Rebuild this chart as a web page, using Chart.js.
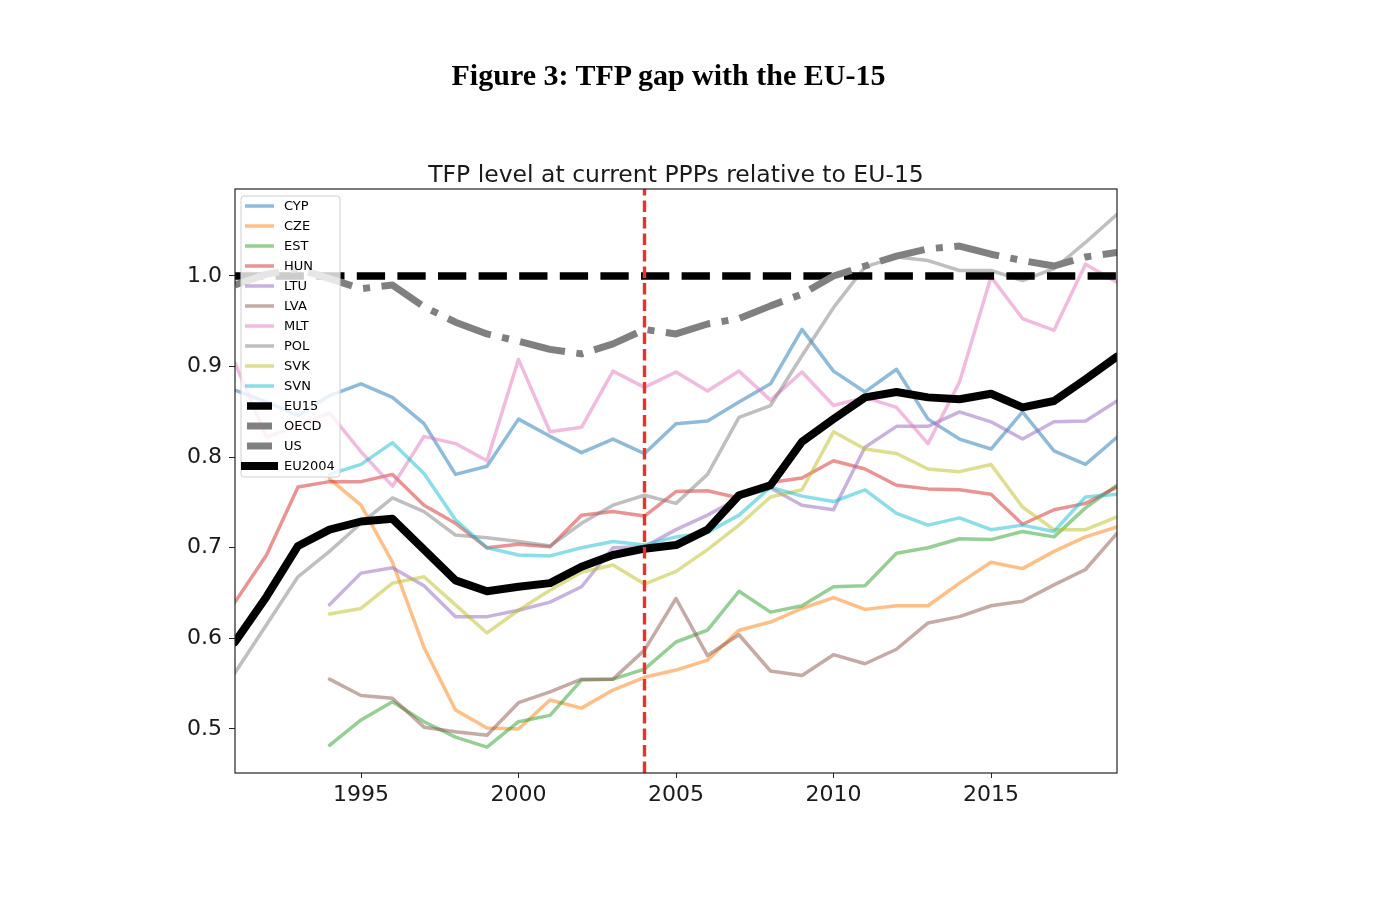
<!DOCTYPE html>
<html>
<head>
<meta charset="utf-8">
<script src="https://cdn.jsdelivr.net/npm/chart.js@4.4.1/dist/chart.umd.min.js"></script>
<style>
    html, body { margin: 0; padding: 0; background: #fff; }
    #wrap { position: relative; width: 1392px; height: 920px; }
    #wrap canvas { position: absolute; left: 0; top: 0; }
    #figTitle {
        position: absolute; left: 0; top: 60px; width: 1337px;
        text-align: center; color: #000;
        font: bold 30px 'Liberation Serif', 'Times New Roman', serif; line-height: 30px;
    }
</style>
</head>
<body>
<div id="wrap">
    <canvas id="tfpChart" width="1392" height="920"></canvas>
    <div id="figTitle">Figure 3: TFP gap with the EU-15</div>
</div>
<script>
// years 1991..2019
const YEARS = [1991, 1992, 1993, 1994, 1995, 1996, 1997, 1998, 1999, 2000,
    2001, 2002, 2003, 2004, 2005, 2006, 2007, 2008, 2009, 2010,
    2011, 2012, 2013, 2014, 2015, 2016, 2017, 2018, 2019];

const CYP = [0.874, 0.861, 0.846, 0.868, 0.881, 0.866, 0.837, 0.781, 0.790, 0.842, 0.823, 0.805, 0.820, 0.804, 0.837, 0.840, 0.861, 0.881, 0.941, 0.895, 0.872, 0.897, 0.842, 0.820, 0.809, 0.850, 0.807, 0.792, 0.822];
const CZE = [null, null, null, 0.776, 0.747, 0.684, 0.590, 0.521, 0.501, 0.500, 0.532, 0.523, 0.543, 0.557, 0.565, 0.576, 0.609, 0.618, 0.633, 0.645, 0.632, 0.636, 0.636, 0.661, 0.684, 0.677, 0.696, 0.712, 0.723];
const EST = [null, null, null, 0.482, 0.510, 0.530, 0.508, 0.491, 0.480, 0.508, 0.515, 0.554, 0.555, 0.566, 0.596, 0.609, 0.652, 0.629, 0.636, 0.657, 0.658, 0.694, 0.700, 0.710, 0.709, 0.718, 0.712, 0.744, 0.769];
const HUN = [0.640, 0.692, 0.767, 0.773, 0.773, 0.781, 0.747, 0.727, 0.700, 0.704, 0.701, 0.736, 0.740, 0.735, 0.762, 0.763, 0.755, 0.772, 0.777, 0.796, 0.787, 0.769, 0.765, 0.764, 0.759, 0.726, 0.742, 0.749, 0.767];
const LTU = [null, null, null, 0.637, 0.672, 0.678, 0.658, 0.624, 0.624, 0.631, 0.640, 0.657, 0.700, 0.701, 0.720, 0.736, 0.755, 0.766, 0.747, 0.742, 0.811, 0.834, 0.834, 0.850, 0.839, 0.820, 0.839, 0.840, 0.862];
const LVA = [null, null, null, 0.555, 0.537, 0.534, 0.502, 0.497, 0.493, 0.529, 0.541, 0.555, 0.555, 0.587, 0.644, 0.581, 0.604, 0.564, 0.559, 0.582, 0.572, 0.588, 0.617, 0.624, 0.636, 0.641, 0.659, 0.676, 0.716];
const MLT = [0.904, 0.822, 0.835, 0.849, 0.806, 0.768, 0.823, 0.815, 0.796, 0.908, 0.828, 0.833, 0.895, 0.877, 0.894, 0.873, 0.895, 0.863, 0.894, 0.857, 0.866, 0.855, 0.815, 0.883, 0.999, 0.953, 0.940, 1.013, 0.993];
const POL = [0.562, 0.615, 0.668, 0.696, 0.727, 0.755, 0.740, 0.714, 0.711, 0.707, 0.702, 0.727, 0.747, 0.758, 0.749, 0.781, 0.844, 0.857, 0.912, 0.965, 1.010, 1.021, 1.017, 1.006, 1.006, 0.995, 1.008, 1.037, 1.068];
const SVK = [null, null, null, 0.627, 0.633, 0.661, 0.668, 0.637, 0.606, 0.631, 0.653, 0.673, 0.681, 0.660, 0.674, 0.698, 0.725, 0.756, 0.764, 0.828, 0.809, 0.804, 0.787, 0.784, 0.792, 0.745, 0.720, 0.720, 0.734];
const SVN = [null, null, null, 0.781, 0.792, 0.816, 0.782, 0.731, 0.700, 0.692, 0.691, 0.700, 0.707, 0.703, 0.712, 0.717, 0.736, 0.767, 0.757, 0.751, 0.764, 0.738, 0.725, 0.733, 0.720, 0.725, 0.718, 0.756, 0.759];
const EU15 = [1, 1, 1, 1, 1, 1, 1, 1, 1, 1, 1, 1, 1, 1, 1, 1, 1, 1, 1, 1, 1, 1, 1, 1, 1, 1, 1, 1, 1];
const OECD = [];   // in the legend, no visible line
const US = [0.990, 1.002, 1.008, 0.997, 0.986, 0.990, 0.966, 0.949, 0.936, 0.928, 0.919, 0.914, 0.925, 0.941, 0.936, 0.947, 0.953, 0.967, 0.980, 1.000, 1.011, 1.022, 1.030, 1.033, 1.024, 1.017, 1.011, 1.021, 1.026];
const EU2004 = [0.596, 0.646, 0.702, 0.720, 0.729, 0.732, 0.698, 0.664, 0.652, 0.657, 0.661, 0.679, 0.692, 0.699, 0.703, 0.720, 0.758, 0.769, 0.817, 0.842, 0.866, 0.872, 0.866, 0.864, 0.870, 0.855, 0.862, 0.886, 0.911];

const X_TICKS = [1995, 2000, 2005, 2010, 2015];
const Y_TICKS = [0.5, 0.6, 0.7, 0.8, 0.9, 1.0];
const X_MIN = 1991, X_MAX = 2019;
const Y_MIN = 0.4514, Y_MAX = 1.096;
const ACCESSION_YEAR = 2004;

const COUNTRIES = [
    ['CYP', CYP, 'rgba(31,119,180,0.5)'],
    ['CZE', CZE, 'rgba(255,127,14,0.5)'],
    ['EST', EST, 'rgba(44,160,44,0.5)'],
    ['HUN', HUN, 'rgba(214,39,40,0.5)'],
    ['LTU', LTU, 'rgba(148,103,189,0.5)'],
    ['LVA', LVA, 'rgba(140,86,75,0.5)'],
    ['MLT', MLT, 'rgba(227,119,194,0.5)'],
    ['POL', POL, 'rgba(127,127,127,0.5)'],
    ['SVK', SVK, 'rgba(188,189,34,0.5)'],
    ['SVN', SVN, 'rgba(23,190,207,0.5)']
];

function toPoints(values) {
    return values.map((v, i) => ({ x: YEARS[i], y: v }));
}

function lineSet(label, values, color, width, dash, order) {
    return {
        label: label,
        data: toPoints(values),
        borderColor: color,
        backgroundColor: color,
        borderWidth: width,
        borderDash: dash || [],
        borderCapStyle: dash ? 'butt' : 'round',
        borderJoinStyle: 'round',
        pointRadius: 0,
        tension: 0,
        spanGaps: false,
        clip: 0,
        order: order,
        inLegend: true
    };
}

const datasets = COUNTRIES.map((c, i) => lineSet(c[0], c[1], c[2], 3.5, null, 20 - i));
datasets.push(lineSet('EU15', EU15, '#000', 7.5, [28.3, 12.3], 4));
datasets.push(lineSet('OECD', OECD, '#808080', 7, [46, 11.5, 7, 11.5], 3));
datasets.push(lineSet('US', US, '#808080', 7, [46, 11.5, 7, 11.5], 2));
datasets.push(lineSet('EU2004', EU2004, '#000', 8, null, 1));
datasets.push({
    label: 'accession',
    data: [{ x: ACCESSION_YEAR, y: Y_MIN }, { x: ACCESSION_YEAR, y: Y_MAX }],
    borderColor: '#e8332b',
    borderWidth: 3.4,
    borderDash: [11.5, 5],
    borderCapStyle: 'butt',
    pointRadius: 0,
    clip: 0,
    order: 0,
    inLegend: false
});

// frame, subtitle and the in-plot legend
const decorations = {
    id: 'decorations',
    afterDraw(chart) {
        const ctx = chart.ctx;
        const a = chart.chartArea;
        ctx.save();

        ctx.strokeStyle = '#222';
        ctx.lineWidth = 1.2;
        ctx.strokeRect(a.left, a.top, a.right - a.left, a.bottom - a.top);

        ctx.fillStyle = '#1a1a1a';
        ctx.font = '23.5px "DejaVu Sans"';
        ctx.textAlign = 'center';
        ctx.textBaseline = 'alphabetic';
        ctx.fillText('TFP level at current PPPs relative to EU-15', (a.left + a.right) / 2, a.top - 7);

        const items = chart.data.datasets.filter(d => d.inLegend);
        const bx = a.left + 6, by = a.top + 7, bw = 99, bh = 281;
        ctx.beginPath();
        ctx.roundRect(bx, by, bw, bh, 3);
        ctx.fillStyle = 'rgba(255,255,255,0.8)';
        ctx.fill();
        ctx.strokeStyle = '#d0d0d0';
        ctx.lineWidth = 1;
        ctx.stroke();

        ctx.font = '13px "DejaVu Sans"';
        ctx.textAlign = 'left';
        ctx.textBaseline = 'middle';
        items.forEach((d, i) => {
            const y = by + 10 + i * 20;
            ctx.beginPath();
            ctx.strokeStyle = d.borderColor;
            ctx.lineWidth = d.borderWidth;
            ctx.lineCap = d.label === 'EU2004' ? 'square' : 'butt';
            ctx.moveTo(bx + 4 + (d.borderDash.length ? 2 : 0), y);
            ctx.lineTo(bx + 33 - (d.borderDash.length ? 2 : 0), y);
            ctx.stroke();
            ctx.fillStyle = '#000';
            ctx.fillText(d.label, bx + 43, y + 1);
        });
        ctx.restore();
    }
};

new Chart(document.getElementById('tfpChart'), {
    type: 'line',
    data: { datasets: datasets },
    options: {
        responsive: false,
        animation: false,
        devicePixelRatio: 1,
        events: [],
        layout: { padding: { top: 189, right: 275, left: 0, bottom: 0 } },
        plugins: {
            legend: { display: false },
            title: { display: false },
            tooltip: { enabled: false }
        },
        scales: {
            x: {
                type: 'linear',
                min: X_MIN,
                max: X_MAX,
                afterBuildTicks: s => { s.ticks = X_TICKS.map(v => ({ value: v })); },
                afterFit: s => { s.height = 920 - 773; },
                grid: { drawOnChartArea: false, drawTicks: true, tickLength: 5, color: '#222' },
                border: { display: false },
                ticks: {
                    autoSkip: false, maxRotation: 0, padding: 4,
                    color: '#1a1a1a', font: { family: 'DejaVu Sans', size: 22 },
                    callback: v => String(v)
                }
            },
            y: {
                type: 'linear',
                min: Y_MIN,
                max: Y_MAX,
                afterBuildTicks: s => { s.ticks = Y_TICKS.map(v => ({ value: v })); },
                afterFit: s => { s.width = 235; },
                grid: { drawOnChartArea: false, drawTicks: true, tickLength: 6, color: '#222' },
                border: { display: false },
                ticks: {
                    autoSkip: false, padding: 7,
                    color: '#1a1a1a', font: { family: 'DejaVu Sans', size: 22 },
                    callback: v => v.toFixed(1)
                }
            }
        }
    },
    plugins: [decorations]
});
</script>
</body>
</html>
